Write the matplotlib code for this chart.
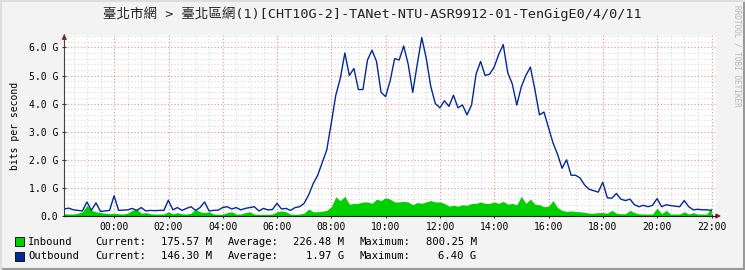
import numpy as np
import matplotlib
matplotlib.use('Agg')
import matplotlib.pyplot as plt
from matplotlib.patches import Rectangle
from matplotlib.lines import Line2D

# Traffic samples every 10 minutes, starting 22:10 the previous day (Gbit/s).
START_HOUR = -1.84
STEP_HOURS = 1 / 6

outbound = [
    0.25, 0.28, 0.22, 0.20, 0.18, 0.50, 0.20, 0.47, 0.16, 0.18,
    0.20, 0.72, 0.20, 0.21, 0.22, 0.27, 0.20, 0.30, 0.18, 0.20,
    0.19, 0.20, 0.20, 0.56, 0.22, 0.30, 0.20, 0.27, 0.33, 0.20,
    0.30, 0.50, 0.18, 0.20, 0.21, 0.30, 0.33, 0.25, 0.30, 0.22,
    0.27, 0.30, 0.33, 0.18, 0.27, 0.22, 0.23, 0.45, 0.25, 0.27,
    0.20, 0.30, 0.33, 0.45, 0.75, 1.15, 1.45, 1.90, 2.35, 3.30,
    4.30, 4.90, 5.80, 5.00, 5.25, 4.50, 4.50, 5.55, 5.90, 5.50,
    4.40, 4.25, 4.80, 5.60, 5.55, 6.05, 5.40, 4.40, 5.40, 6.35,
    5.60, 4.60, 4.00, 3.85, 4.10, 3.90, 4.30, 3.85, 3.95, 3.60,
    3.95, 5.05, 5.50, 5.00, 5.05, 5.30, 5.75, 6.10, 5.10, 4.70,
    3.95, 4.60, 5.00, 5.30, 4.50, 3.60, 3.70, 3.15, 2.60, 2.20,
    1.70, 2.00, 1.45, 1.45, 1.35, 1.10, 0.95, 0.90, 0.85, 1.20,
    0.65, 0.63, 0.80, 0.60, 0.55, 0.60, 0.40, 0.33, 0.38, 0.33,
    0.38, 0.62, 0.33, 0.40, 0.37, 0.35, 0.33, 0.55, 0.33, 0.22,
    0.24, 0.22, 0.22, 0.20,
]

inbound = [
    0.08, 0.07, 0.07, 0.10, 0.15, 0.38, 0.20, 0.15, 0.12, 0.10,
    0.08, 0.10, 0.08, 0.07, 0.10, 0.20, 0.25, 0.10, 0.12, 0.08,
    0.07, 0.07, 0.07, 0.15, 0.08, 0.12, 0.08, 0.07, 0.10, 0.24,
    0.15, 0.12, 0.15, 0.07, 0.06, 0.06, 0.12, 0.15, 0.07, 0.07,
    0.12, 0.15, 0.07, 0.06, 0.06, 0.06, 0.07, 0.15, 0.18, 0.15,
    0.07, 0.06, 0.07, 0.10, 0.25, 0.15, 0.15, 0.17, 0.20, 0.33,
    0.68, 0.55, 0.70, 0.42, 0.45, 0.45, 0.50, 0.50, 0.45, 0.60,
    0.55, 0.65, 0.60, 0.50, 0.50, 0.52, 0.50, 0.40, 0.48, 0.45,
    0.50, 0.55, 0.50, 0.50, 0.45, 0.35, 0.38, 0.35, 0.40, 0.38,
    0.45, 0.45, 0.50, 0.45, 0.45, 0.50, 0.45, 0.52, 0.42, 0.45,
    0.40, 0.70, 0.45, 0.60, 0.42, 0.40, 0.33, 0.35, 0.55, 0.30,
    0.20, 0.16, 0.18, 0.16, 0.15, 0.13, 0.10, 0.10, 0.12, 0.12,
    0.10, 0.20, 0.10, 0.08, 0.08, 0.20, 0.12, 0.08, 0.07, 0.07,
    0.07, 0.28, 0.08, 0.20, 0.07, 0.07, 0.07, 0.15, 0.07, 0.12,
    0.07, 0.07, 0.07, 0.30,
]

tick_hours = [0, 2, 4, 6, 8, 10, 12, 14, 16, 18, 20, 22]
tick_labels = ['00:00', '02:00', '04:00', '06:00', '08:00', '10:00',
               '12:00', '14:00', '16:00', '18:00', '20:00', '22:00']
y_ticks = [0, 1, 2, 3, 4, 5, 6]
y_labels = ['0.0', '1.0 G', '2.0 G', '3.0 G', '4.0 G', '5.0 G', '6.0 G']

legend_rows = [
    ('Inbound', '#00CF00', '175.57 M', '226.48 M', '800.25 M'),
    ('Outbound', '#002A97', '146.30 M', '1.97 G', '6.40 G'),
]

TITLE = '臺北市網 > 臺北區網(1)[CHT10G-2]-TANet-NTU-ASR9912-01-TenGigE0/4/0/11'

W, H = 745, 270
MONO = 'DejaVu Sans Mono'
BG = '#F3F3F3'


def px(x, y):
    """Pixel position (from top-left) to figure fraction."""
    return x / W, 1 - y / H


fig = plt.figure(figsize=(W / 100, H / 100), dpi=100, facecolor=BG)

left, right, top, bottom = 64.3, 716.0, 35.0, 216.0
ax = fig.add_axes([left / W, 1 - bottom / H, (right - left) / W,
                   (bottom - top) / H])
ax.set_facecolor('white')

hours = START_HOUR + np.arange(len(outbound)) * STEP_HOURS
ax.set_xlim(START_HOUR, START_HOUR + (right - left) / 27.15)
ax.set_ylim(0, (bottom - top) / 28.1)

# grid: minor grey, major red, both dotted
dots = (0, (1, 2))
for m in np.arange(-1.5, 22.5, 0.5):
    if m % 2:
        ax.axvline(m, color='#D8D8D8', lw=0.8, ls=dots, zorder=0)
for v in np.arange(0.2, 6.5, 0.2):
    if abs(v - round(v)) > 0.01:
        ax.axhline(v, color='#D8D8D8', lw=0.8, ls=dots, zorder=0)
for h in tick_hours:
    ax.axvline(h, color='#F08C8C', lw=0.8, ls=dots, zorder=0)
for v in y_ticks[1:]:
    ax.axhline(v, color='#F08C8C', lw=0.8, ls=dots, zorder=0)

ax.fill_between(hours, 0, inbound, color='#00CF00', lw=0, zorder=2)
ax.plot(hours, outbound, color='#002A97', lw=1.0, zorder=3)

ax.set_xticks(tick_hours)
ax.set_xticklabels(tick_labels, fontfamily=MONO, fontsize=7)
ax.set_yticks(y_ticks)
ax.set_yticklabels(y_labels, fontfamily=MONO, fontsize=7)
ax.tick_params(length=3, width=0.8, direction='inout', pad=3,
               colors='#333333', labelcolor='black')
for side in ('top', 'right'):
    ax.spines[side].set_visible(False)
ax.spines['left'].set_color('#444444')
ax.spines['bottom'].set_color('#222222')
ax.spines['left'].set_zorder(4)
ax.spines['bottom'].set_zorder(4)

# axis arrows
ax.annotate('', xy=(1.012, 0), xytext=(0.995, 0), xycoords='axes fraction',
            arrowprops=dict(arrowstyle='-|>', color='#8B1A1A', lw=0.8,
                            mutation_scale=7), annotation_clip=False)
ax.annotate('', xy=(0, 1.02), xytext=(0, 0.98), xycoords='axes fraction',
            arrowprops=dict(arrowstyle='-|>', color='#8B1A1A', lw=0.8,
                            mutation_scale=7), annotation_clip=False)

ax.set_ylabel('bits per second', fontfamily=MONO, fontsize=7, labelpad=6)

fig.text(*px(372, 14), TITLE, ha='center', va='center', fontsize=9.7,
         family=[MONO, 'Noto Sans CJK TC'], color='#222222')
fig.text(*px(737, 5), 'RRDTOOL / TOBI OETIKER', rotation=-90, ha='center',
         va='top', fontfamily=MONO, fontsize=5.6, color='#B8B8B8')

# legend
for i, (name, color, cur, avg, mx) in enumerate(legend_rows):
    yc = 241.7 + i * 14.3
    x0, y0 = px(15, yc + 4.5)
    fig.patches.append(Rectangle((x0, y0), 9 / W, 9 / H, facecolor=color,
                                 edgecolor='black', lw=0.6,
                                 transform=fig.transFigure, figure=fig))
    kw = dict(va='center', fontfamily=MONO, fontsize=7.6, color='black')
    fig.text(*px(28.3, yc), name, **kw)
    fig.text(*px(95.7, yc), 'Current:', **kw)
    fig.text(*px(212.3, yc), cur, ha='right', **kw)
    fig.text(*px(227.7, yc), 'Average:', **kw)
    fig.text(*px(344.3, yc), avg, ha='right', **kw)
    fig.text(*px(360, yc), 'Maximum:', **kw)
    fig.text(*px(476.7, yc), mx, ha='right', **kw)

# canvas border shading
fig.add_artist(Line2D([0, 1], [0.002, 0.002], color='#9A9A9A', lw=1.5,
                      transform=fig.transFigure))
fig.add_artist(Line2D([0.998, 0.998], [0, 1], color='#9A9A9A', lw=1.5,
                      transform=fig.transFigure))
fig.add_artist(Line2D([0, 1], [0.998, 0.998], color='#DDDDDD', lw=1.5,
                      transform=fig.transFigure))
fig.add_artist(Line2D([0.002, 0.002], [0, 1], color='#DDDDDD', lw=1.5,
                      transform=fig.transFigure))

fig.savefig('out.png', dpi=100, facecolor=BG)
